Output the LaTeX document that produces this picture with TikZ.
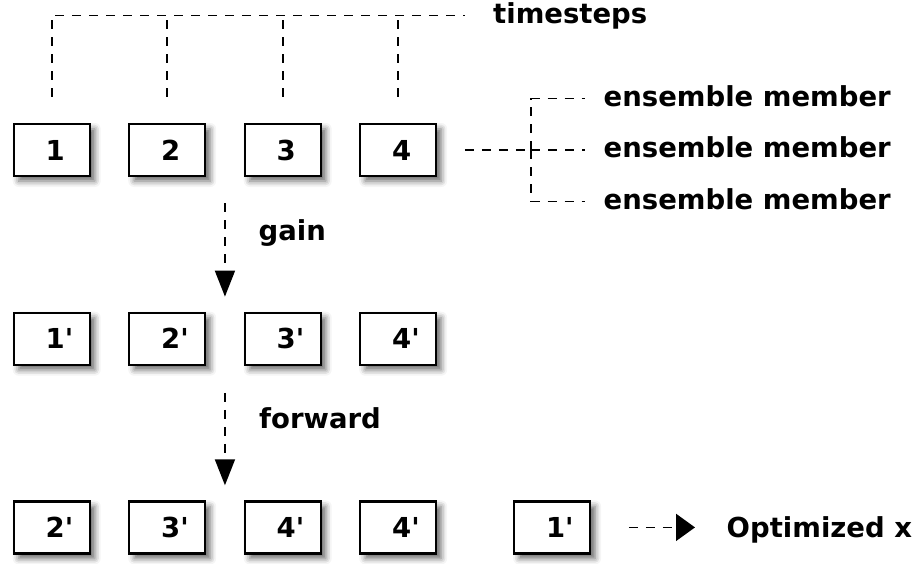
\documentclass[tikz,border=0pt]{standalone}
\usepackage{fontspec}
\newfontfamily\diafont{DejaVu Sans}
\usetikzlibrary{arrows.meta, positioning, calc, shadows.blur}
\tikzstyle{cell} = [
    rectangle,
    minimum width=76pt,
    minimum height=52pt,
    text width=60pt,
    inner xsep=8pt,
    align=left,
    draw=black,
    line width=2.2pt,
    fill=white,
    blur shadow={shadow xshift=5pt, shadow yshift=-5pt, shadow blur radius=6pt, shadow opacity=60},
    execute at begin node={\hspace*{24pt}}
]
\tikzstyle{caption} = [inner sep=0pt, anchor=west, text height=21pt, text depth=6pt]
\tikzstyle{dashline} = [line width=1.8pt, dash pattern=on 9pt off 8pt]
\tikzstyle{downarrow} = [dashline, -{Triangle[length=26pt, width=20pt]}]
\tikzstyle{outarrow} = [dashline, -{Triangle[length=19pt, width=27pt]}]

\begin{document}
\begin{tikzpicture}[x=1pt, y=1pt, node distance=37.3pt, font=\diafont\bfseries\fontsize{27.5}{33}\selectfont]
\useasboundingbox (0,0) rectangle (922,-563);

% ensemble row
\node (s1) [cell] at (51.7,-150) {1};
\node (s2) [cell, right=of s1] {2};
\node (s3) [cell, right=of s2] {3};
\node (s4) [cell, right=of s3] {4};

% after gain
\node (g1) [cell, below=134.5pt of s1] {1'};
\node (g2) [cell, right=of g1] {2'};
\node (g3) [cell, right=of g2] {3'};
\node (g4) [cell, right=of g3] {4'};

% after forward
\node (f1) [cell, below=134.5pt of g1] {2'};
\node (f2) [cell, right=of f1] {3'};
\node (f3) [cell, right=of f2] {4'};
\node (f4) [cell, right=of f3] {4'};
\node (f5) [cell, right=75.7pt of f4] {1'};

% labels
\node (ts) [caption] at (493,-15.5) {timesteps};
\node (m1) [caption] at (603.5,-98.5) {ensemble member};
\node (m2) [caption] at (603.5,-150) {ensemble member};
\node (m3) [caption] at (603.5,-201.5) {ensemble member};
\node (gain) [caption] at (258.5,-232.5) {gain};
\node (fwd) [caption] at (259,-420.5) {forward};
\node (opt) [caption] at (726.5,-529.5) {Optimized x};

% timesteps
\draw[dashline, shorten <=26pt, shorten >=28pt] (s1.north) |- (ts.west);
\draw[dashline, shorten <=26pt] (s2.north) -- (s2.north |- ts.west);
\draw[dashline, shorten <=26pt] (s3.north) -- (s3.north |- ts.west);
\draw[dashline, shorten <=26pt] (s4.north) -- (s4.north |- ts.west);

% ensemble members
\coordinate (jn) at (531,-150);
\draw[dashline, shorten <=27.5pt] (s4.east) -- (jn);
\draw[dashline, shorten >=18.5pt] (jn) |- (m1.west);
\draw[dashline, shorten >=18.5pt] (jn) -- (m2.west);
\draw[dashline, shorten >=18.5pt] (jn) |- (m3.west);

% gain and forward steps
\coordinate (gtop) at ($(s2.south)!.5!(s3.south)$);
\coordinate (gbot) at ($(g2.north)!.5!(g3.north)$);
\draw[downarrow, shorten <=26pt, shorten >=15pt] (gtop) -- (gbot);
\coordinate (ftop) at ($(g2.south)!.5!(g3.south)$);
\coordinate (fbot) at ($(f2.north)!.5!(f3.north)$);
\draw[downarrow, shorten <=27pt, shorten >=15pt] (ftop) -- (fbot);

% result
\draw[outarrow, shorten <=37.7pt, shorten >=31.5pt] (f5.east) -- (f5.east -| opt.west);

\end{tikzpicture}
\end{document}
